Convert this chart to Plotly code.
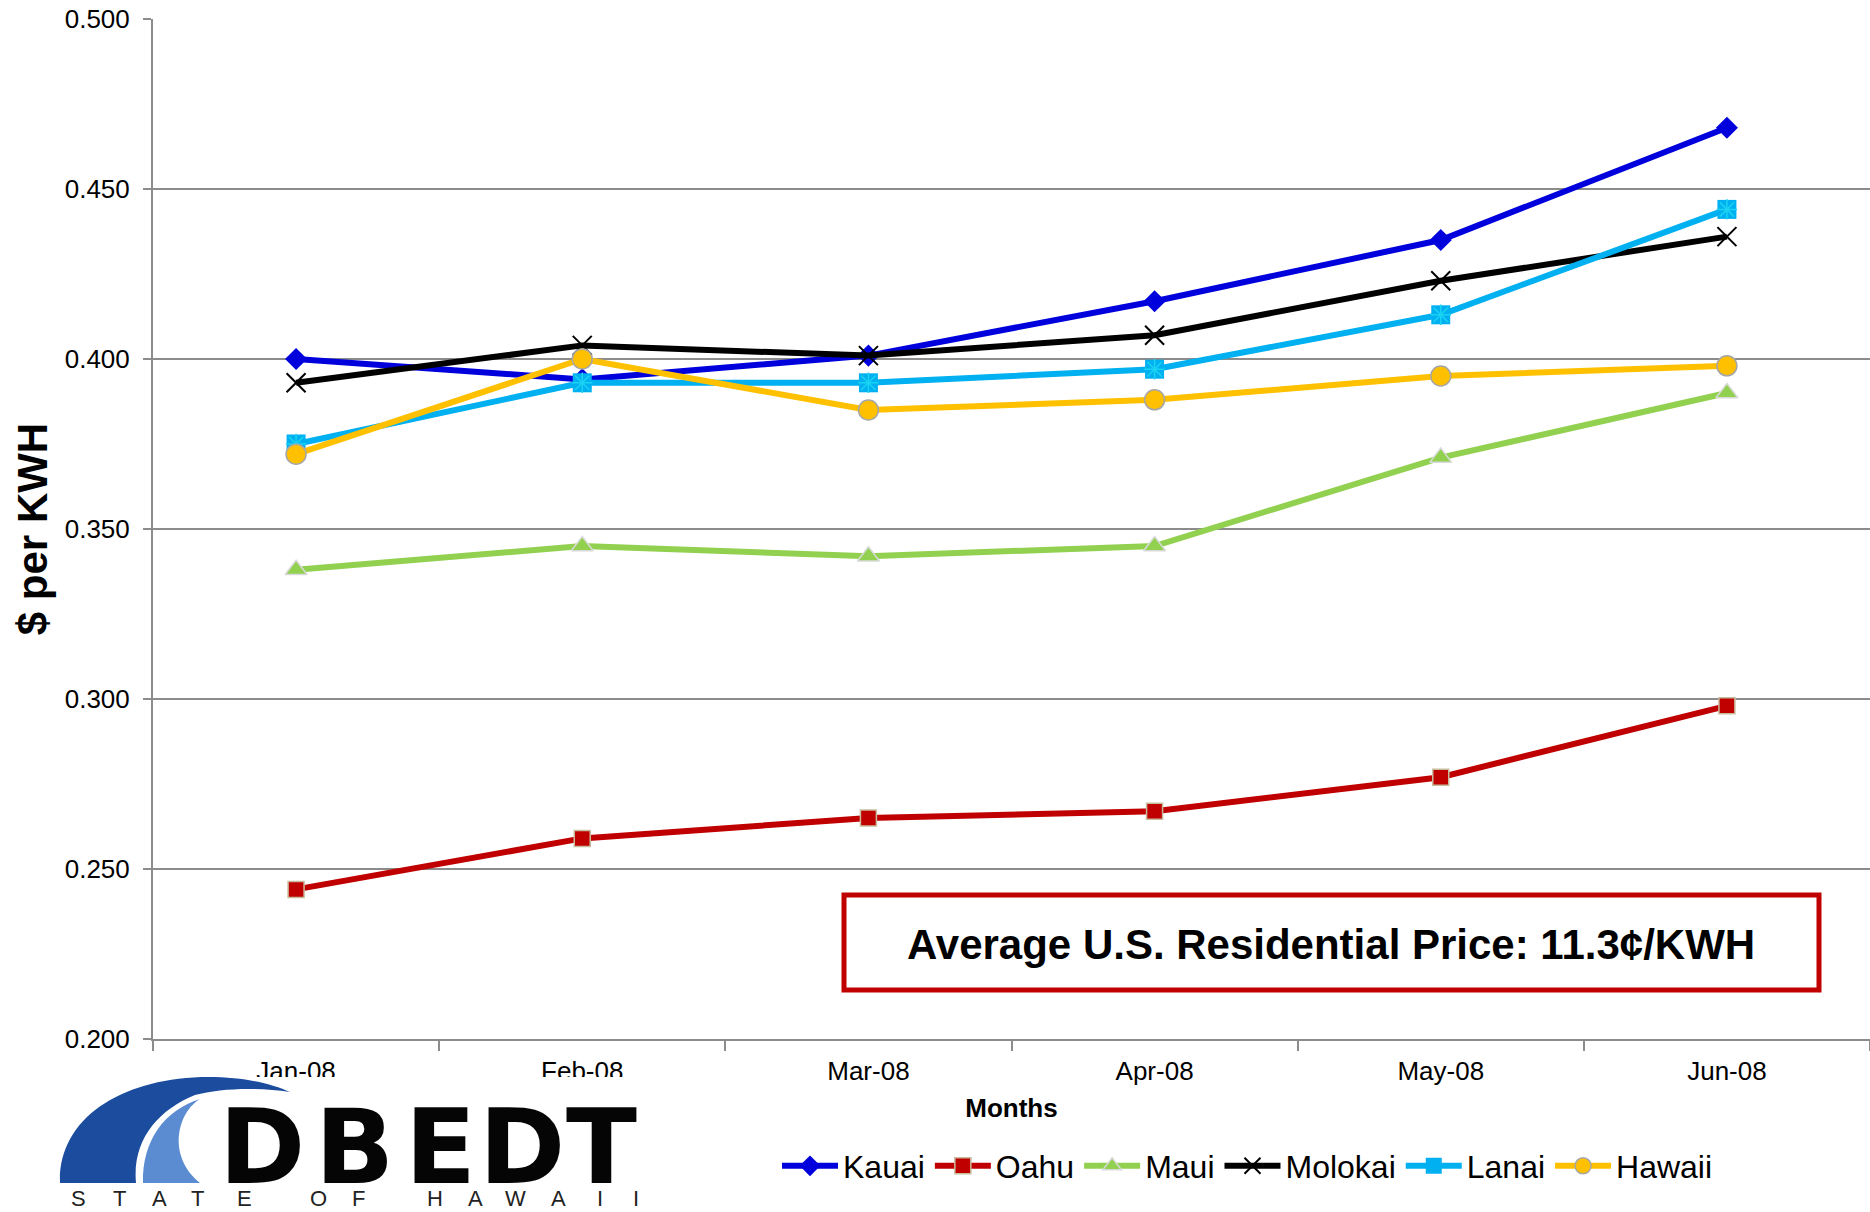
import plotly.graph_objects as go

# monthly average residential electricity price, $ per KWH
months = ["Jan-08", "Feb-08", "Mar-08", "Apr-08", "May-08", "Jun-08"]
kauai = [0.400, 0.394, 0.401, 0.417, 0.435, 0.468]
oahu = [0.244, 0.259, 0.265, 0.267, 0.277, 0.298]
maui = [0.338, 0.345, 0.342, 0.345, 0.371, 0.390]
molokai = [0.393, 0.404, 0.401, 0.407, 0.423, 0.436]
lanai = [0.375, 0.393, 0.393, 0.397, 0.413, 0.444]
hawaii = [0.372, 0.400, 0.385, 0.388, 0.395, 0.398]

W, H = 1870, 1212
L, R, T, B = 153, 0, 19, 173
PW, PH = W - L - R, H - T - B


def px_x(x):
    return (x - L) / PW


def px_y(y):
    return 1 - (y - T) / PH


def path(points):
    """SVG path in paper units from pixel points; first = move, rest = cubic."""
    out = []
    for i, p in enumerate(points):
        if i == 0:
            out.append("M %.5f,%.5f" % (px_x(p[0]), px_y(p[1])))
        else:
            out.append("C %.5f,%.5f %.5f,%.5f %.5f,%.5f" % (
                px_x(p[0]), px_y(p[1]), px_x(p[2]), px_y(p[3]), px_x(p[4]), px_y(p[5])))
    return " ".join(out) + " Z"


FONT = "Liberation Sans, Arial, sans-serif"

fig = go.Figure()

series = [
    ("Kauai", kauai, "#0000DD", dict(symbol="diamond", size=17, color="#0000DD")),
    ("Oahu", oahu, "#C00000", dict(symbol="square", size=16, color="#C00000",
                                  line=dict(color="#C8BC9E", width=1.5))),
    ("Maui", maui, "#92D050", dict(symbol="triangle-up", size=19, color="#92D050",
                                  line=dict(color="#D9D9D9", width=1.5))),
    ("Molokai", molokai, "#000000", dict(symbol="x-thin", size=19,
                                         line=dict(color="#000000", width=2))),
    ("Lanai", lanai, "#00B0F0", dict(symbol="square", size=19, color="#00B0F0")),
    ("Hawaii", hawaii, "#FFC000", dict(symbol="circle", size=20, color="#FFC000",
                                      line=dict(color="#A6A6A6", width=1.5))),
]

for name, vals, color, marker in series:
    fig.add_trace(go.Scatter(
        x=months, y=vals, name=name, mode="lines+markers",
        line=dict(color=color, width=6), marker=marker,
    ))
    if name == "Lanai":
        # asterisk drawn over the square marker
        fig.add_trace(go.Scatter(
            x=months, y=vals, mode="markers", showlegend=False, hoverinfo="skip",
            marker=dict(symbol="asterisk-open", size=17,
                        line=dict(color="#8C7FDC", width=1.5)),
        ))

shapes = [
    # note box
    dict(type="rect", xref="paper", yref="paper",
         x0=px_x(844), x1=px_x(1819), y0=px_y(990), y1=px_y(895),
         line=dict(color="#C00000", width=5), fillcolor="white", layer="above"),
    # logo background (covers the bottom of the first tick labels)
    dict(type="rect", xref="paper", yref="paper",
         x0=px_x(50), x1=px_x(652), y0=px_y(1212), y1=px_y(1077),
         line=dict(width=0), fillcolor="white", layer="above"),
    dict(type="path", xref="paper", yref="paper", layer="above",
         fillcolor="#1B4C9E", line=dict(width=0),
         path=path([(60, 1183),
                    (58, 1120, 118, 1080, 201, 1077),
                    (240, 1076, 270, 1083, 290, 1092),
                    (258, 1087, 220, 1088, 195, 1095),
                    (158, 1110, 132, 1140, 136, 1183)])),
    dict(type="path", xref="paper", yref="paper", layer="above",
         fillcolor="#5B8CD2", line=dict(width=0),
         path=path([(143, 1183),
                    (142, 1140, 165, 1110, 200, 1099),
                    (178, 1112, 166, 1155, 200, 1183)])),
]

annotations = [
    dict(text="<b>Average U.S. Residential Price: 11.3¢/KWH</b>",
         xref="paper", yref="paper", x=px_x(1331), y=px_y(944),
         xanchor="center", yanchor="middle",
         showarrow=False, font=dict(family=FONT, size=42, color="black")),
]

for letter, cx in zip("DBEDT", [262, 354, 440, 522, 601]):
    annotations.append(dict(
        text="<b>%s</b>" % letter, xref="paper", yref="paper",
        x=px_x(cx), y=px_y(1147), xanchor="center", yanchor="middle",
        showarrow=False,
        font=dict(family="DejaVu Sans, sans-serif", size=104, color="#050505")))

for letter, cx in zip("STATEOFHAWAII",
                      [78, 119, 159, 197, 244, 318, 358, 435, 475, 515, 558, 600, 636]):
    annotations.append(dict(
        text=letter, xref="paper", yref="paper", x=px_x(cx), y=px_y(1198),
        xanchor="center", yanchor="middle",
        showarrow=False, font=dict(family=FONT, size=22, color="#222222")))

fig.update_layout(
    width=W, height=H,
    margin=dict(l=L, r=R, t=T, b=B, autoexpand=False),
    paper_bgcolor="white", plot_bgcolor="white",
    font=dict(family=FONT, color="black"),
    showlegend=True,
    legend=dict(orientation="h", x=px_x(777), y=px_y(1166),
                xanchor="left", yanchor="middle",
                font=dict(family=FONT, size=32), itemwidth=56,
                bgcolor="rgba(0,0,0,0)"),
    xaxis=dict(
        type="category", range=[-0.5, 5.5],
        showline=True, linecolor="#8C8C8C", linewidth=2,
        ticks="outside", tickson="boundaries", ticklen=10, tickcolor="#8C8C8C",
        tickwidth=2, showgrid=False, tickfont=dict(size=26), ticklabelstandoff=8,
        title=dict(text="<b>Months</b>", font=dict(size=26), standoff=14),
    ),
    yaxis=dict(
        range=[0.2, 0.5], dtick=0.05, tickformat=".3f",
        showline=True, linecolor="#8C8C8C", linewidth=2,
        ticks="outside", ticklen=8, tickcolor="#8C8C8C", tickwidth=2,
        showgrid=True, gridcolor="#8C8C8C", gridwidth=2, zeroline=False,
        tickfont=dict(size=26), ticklabelstandoff=8,
        title=dict(text="<b>$ per KWH</b>", font=dict(size=42), standoff=4),
    ),
    shapes=shapes,
    annotations=annotations,
)

# the page's default body margin would shift the figure off the window origin
fig.write_html("out.html", config={"displayModeBar": False},
               post_script="document.body.style.margin = '0';")
